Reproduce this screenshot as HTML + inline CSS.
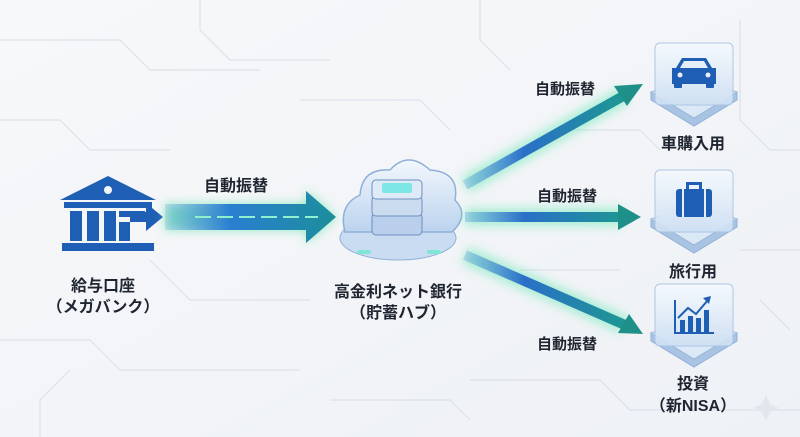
<!DOCTYPE html>
<html><head><meta charset="utf-8"><style>
html,body{margin:0;padding:0;background:#f4f6f9;}
svg{display:block}
text{font-family:"Liberation Sans","Noto Sans CJK JP",sans-serif;font-weight:bold;fill:#1f2530}
</style></head><body>
<svg width="800" height="437" viewBox="0 0 800 437" xmlns="http://www.w3.org/2000/svg">
<defs>
<linearGradient id="bg" x1="0" y1="0" x2="1" y2="1"><stop offset="0" stop-color="#f7f8fa"/><stop offset="1" stop-color="#eef1f5"/></linearGradient>
<linearGradient id="ar" gradientUnits="userSpaceOnUse" x1="160" y1="0" x2="336" y2="0"><stop offset="0" stop-color="#2f7fd8" stop-opacity="0.1"/><stop offset="0.4" stop-color="#2a7fd0"/><stop offset="1" stop-color="#1c8e9a"/></linearGradient>
<linearGradient id="br" gradientUnits="userSpaceOnUse" x1="462" y1="0" x2="640" y2="0"><stop offset="0" stop-color="#2f7fd8" stop-opacity="0.2"/><stop offset="0.35" stop-color="#2a6fc8"/><stop offset="1" stop-color="#1c9e8a"/></linearGradient>
<linearGradient id="tile" x1="0" y1="0" x2="0" y2="1"><stop offset="0" stop-color="#f5f9fe"/><stop offset="1" stop-color="#cfe0f3"/></linearGradient>
<linearGradient id="cl" x1="0" y1="0" x2="0" y2="1"><stop offset="0" stop-color="#f2f7fd"/><stop offset="1" stop-color="#bcd3ee"/></linearGradient>
<filter id="gl" x="-30%" y="-100%" width="160%" height="300%"><feGaussianBlur stdDeviation="5"/></filter>
</defs>
<rect width="800" height="437" fill="url(#bg)"/>
<g stroke="#dde2e9" stroke-width="1.2" fill="none">
<path d="M0 40 H120 L150 70 H260"/><path d="M0 120 H60 L90 150 H170"/><path d="M0 340 H90 L120 370 H300"/><path d="M40 437 V400 L70 370"/>
<path d="M200 0 V30 L230 60 H330"/><path d="M300 100 H420 L450 130"/><path d="M480 0 V40 L510 70"/><path d="M560 130 H640 L660 150"/>
<path d="M740 20 V120 L770 150 H800"/><path d="M740 250 H800"/><path d="M470 380 H600 L630 410 H800"/><path d="M150 260 L190 300 H310"/>
<path d="M520 270 H620"/><path d="M760 300 L790 330"/><path d="M330 400 H450 L470 420"/>
</g>
<!-- bank -->
<g fill="#1f5eb5">
<path d="M60 200 L108 176 L156 200 Z"/><circle cx="108" cy="190" r="4" fill="#f4f6f9"/>
<rect x="64" y="202" width="88" height="6"/>
<rect x="70" y="211" width="12" height="30"/><rect x="87" y="211" width="12" height="30"/><rect x="104" y="211" width="12" height="30"/>
<rect x="119" y="211" width="26" height="6"/><rect x="119" y="222" width="11" height="19"/>
<path d="M130 212 H146 V203 L163 217 L146 231 V222 H130 Z"/>
<rect x="62" y="243" width="92" height="8"/>
</g>
<text x="103" y="291" font-size="16" text-anchor="middle">給与口座</text>
<text x="103" y="312" font-size="16" text-anchor="middle">（メガバンク）</text>
<!-- main arrow -->
<g>
<path d="M165 204 H306 V191 L336 217 L306 243 V230 H165 Z" fill="#4fe0a0" filter="url(#gl)" opacity="0.6"/>
<path d="M165 204 H306 V191 L336 217 L306 243 V230 H165 Z" fill="url(#ar)"/>
<path d="M195 217 H318" stroke="#8ff0d0" stroke-width="2" stroke-dasharray="16 6"/>
</g>
<text x="236" y="191" font-size="16" text-anchor="middle">自動振替</text>
<!-- cloud -->
<g>
<ellipse cx="398" cy="238" rx="58" ry="22" fill="#c9dcf1" stroke="#8fb0d8"/>
<path d="M345 232 Q338 205 360 195 Q362 168 390 170 Q408 150 430 170 Q460 172 455 200 Q470 215 452 232 Z" fill="url(#cl)" stroke="#8fb0d8" stroke-width="1.5"/>
<rect x="372" y="213" width="50" height="22" rx="4" fill="#b9cfec" stroke="#6e8fbf"/>
<rect x="372" y="196" width="50" height="20" rx="4" fill="#cbdcf1" stroke="#6e8fbf"/>
<rect x="372" y="180" width="50" height="19" rx="4" fill="#dfeaf7" stroke="#6e8fbf"/>
<rect x="382" y="183" width="30" height="10" rx="2" fill="#7fe6e6"/>
<rect x="357" y="250" width="14" height="4" rx="2" fill="#7fe6d6"/><rect x="427" y="250" width="14" height="4" rx="2" fill="#7fe6d6"/>
</g>
<text x="398" y="297" font-size="16" text-anchor="middle">高金利ネット銀行</text>
<text x="398" y="318" font-size="16" text-anchor="middle">（貯蓄ハブ）</text>
<!-- branch arrows -->
<g stroke-linecap="butt" fill="none">
<path d="M465 185 L625 95" stroke="#5fe8b0" stroke-width="18" filter="url(#gl)" opacity="0.5"/>
<path d="M465 185 L625 95" stroke="url(#br)" stroke-width="10"/>
<rect x="465" y="208" width="157" height="18" fill="#5fe8b0" filter="url(#gl)" opacity="0.5" stroke="none"/>
<rect x="465" y="212" width="157" height="10" fill="url(#br)" stroke="none"/>
<path d="M465 255 L625 325" stroke="#5fe8b0" stroke-width="18" filter="url(#gl)" opacity="0.5"/>
<path d="M465 255 L625 325" stroke="url(#br)" stroke-width="10"/>
</g>
<path d="M643 84 L614 86 L627 106 Z" fill="#1f8f8a"/>
<path d="M641 217 L618 204 L618 230 Z" fill="#1f8f8a"/>
<path d="M643 334 L629 314 L618 333 Z" fill="#1f8f8a"/>
<text x="565" y="94" font-size="15" text-anchor="middle">自動振替</text>
<text x="567" y="201" font-size="15" text-anchor="middle">自動振替</text>
<text x="567" y="349" font-size="15" text-anchor="middle">自動振替</text>
<!-- tiles -->
<g id="t">
<path d="M651 92 L694 118 L737 92 V100 L694 126 L651 100 Z" fill="#a9c3e3" stroke="#8fb0d8"/>
<path d="M651 92 L694 118 L737 92 L694 78 Z" fill="#dbe8f6" stroke="#9ab8dc"/>
<rect x="655" y="43" width="78" height="62" rx="5" fill="url(#tile)" stroke="#a9c3e3" opacity="0.92"/>
</g>
<use href="#t" y="127"/><use href="#t" y="241"/>
<!-- car -->
<g fill="#1f5eb5"><path d="M676 68 L682 58 H706 L712 68 H716 V84 H672 V68 Z"/><rect x="674" y="82" width="8" height="6" rx="1"/><rect x="706" y="82" width="8" height="6" rx="1"/>
<path d="M684 61 H704 L708 68 H680 Z" fill="#e6eef8"/><circle cx="680" cy="75" r="2.5" fill="#e6eef8"/><circle cx="708" cy="75" r="2.5" fill="#e6eef8"/></g>
<!-- suitcase -->
<g fill="#1f5eb5"><rect x="676" y="189" width="36" height="28" rx="3"/><path d="M686 189 V182 H702 V189 H699 V185 H689 V189 Z"/>
<rect x="682" y="189" width="2" height="28" fill="#e6eef8"/><rect x="704" y="189" width="2" height="28" fill="#e6eef8"/></g>
<!-- chart -->
<g fill="#1f5eb5"><rect x="674" y="300" width="2" height="34"/><rect x="674" y="332" width="40" height="2"/>
<rect x="680" y="320" width="5" height="12"/><rect x="688" y="316" width="5" height="16"/><rect x="696" y="318" width="5" height="14"/><rect x="704" y="310" width="5" height="22"/>
<path d="M678 318 L688 308 L696 314 L708 300" stroke="#1f5eb5" stroke-width="2" fill="none"/><path d="M711 296 L703 298 L709 304 Z"/></g>
<text x="693" y="149" font-size="16" text-anchor="middle">車購入用</text>
<text x="693" y="277" font-size="16" text-anchor="middle">旅行用</text>
<text x="693" y="389" font-size="16" text-anchor="middle">投資</text>
<text x="693" y="411" font-size="16" text-anchor="middle">（新NISA）</text>
<path d="M766 395 L770 404 L779 408 L770 412 L766 421 L762 412 L753 408 L762 404 Z" fill="#e3e7ed"/>
</svg>
</body></html>
